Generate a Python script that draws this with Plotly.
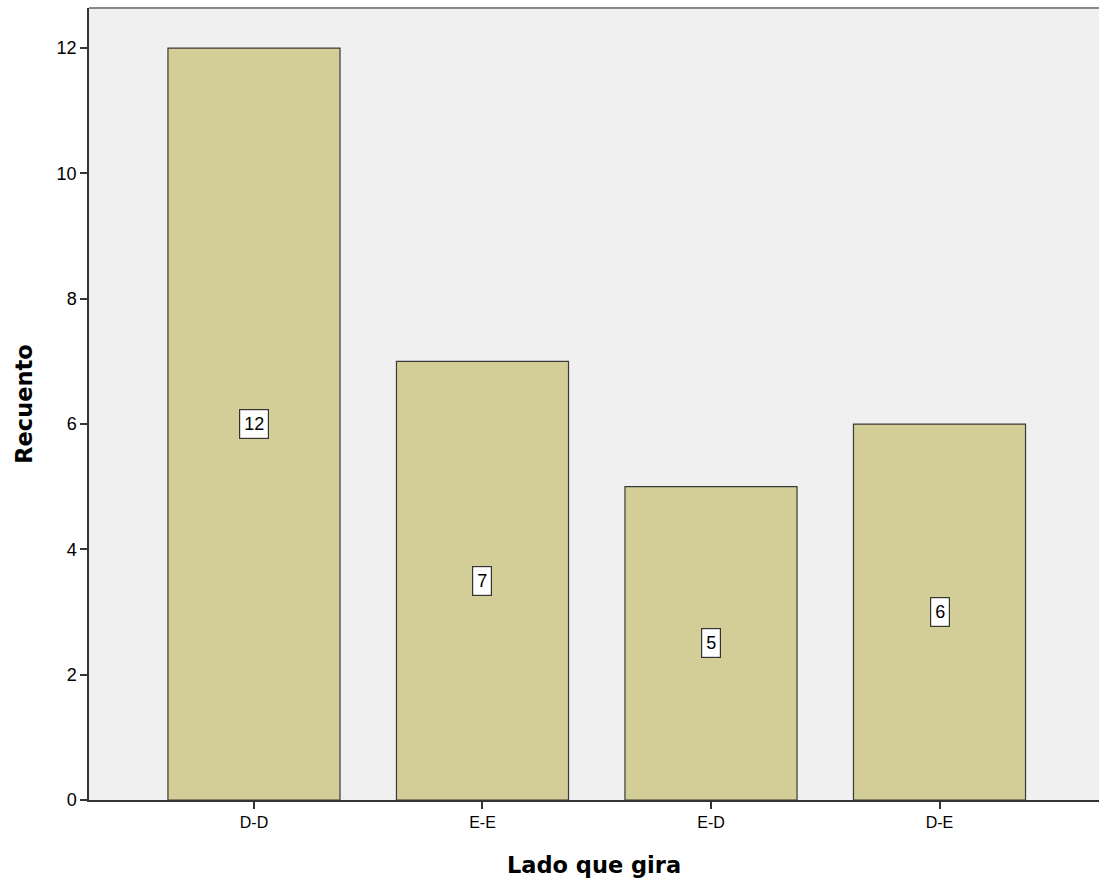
import plotly.graph_objects as go

categories = ["D-D", "E-E", "E-D", "D-E"]
counts = [12, 7, 5, 6]
y_ticks = [0, 2, 4, 6, 8, 10, 12]

fig = go.Figure()
fig.add_trace(go.Bar(
    x=categories, y=counts,
    marker=dict(color="#D3CE97", line=dict(color="#3a3a3a", width=1.2)),
    width=0.753, hoverinfo="skip",
))

for c, v in zip(categories, counts):
    fig.add_annotation(
        x=c, y=v / 2, text=str(v), showarrow=False,
        font=dict(family="Liberation Sans, Arial", size=18, color="#000"),
        bgcolor="white", bordercolor="#333", borderwidth=1.2, borderpad=4,
    )

fig.add_shape(type="line", xref="paper", yref="paper", x0=0, x1=1, y0=1, y1=1,
              line=dict(color="#888", width=2))

fig.update_layout(
    width=1099, height=886,
    margin=dict(l=89, r=0, t=8, b=86),
    paper_bgcolor="white", plot_bgcolor="#F0F0F0",
    showlegend=False,
    font=dict(family="Liberation Sans, Arial", color="#000"),
    xaxis=dict(
        range=[-0.722, 3.698], showgrid=False, zeroline=False,
        showline=True, linecolor="#333", linewidth=1.5,
        ticks="outside", ticklen=7, tickcolor="#333", tickwidth=1.5,
        tickfont=dict(size=16),
        title=dict(text="<b>Lado que gira</b>",
                   font=dict(family="DejaVu Sans", size=22.5), standoff=27),
    ),
    yaxis=dict(
        range=[0, 12.64], tickvals=y_ticks, showgrid=False, zeroline=False,
        showline=True, linecolor="#333", linewidth=1.5,
        ticks="outside", ticklen=7, tickcolor="#333", tickwidth=1.5,
        tickfont=dict(size=18),
        title=dict(text="<b>Recuento</b>",
                   font=dict(family="DejaVu Sans", size=22.5), standoff=18),
    ),
)

fig.write_html(
    "out.html",
    config={"displayModeBar": False},
    post_script="document.body.style.margin='0';"
                "document.documentElement.style.overflow='hidden';"
                "document.body.style.overflow='hidden';",
)
